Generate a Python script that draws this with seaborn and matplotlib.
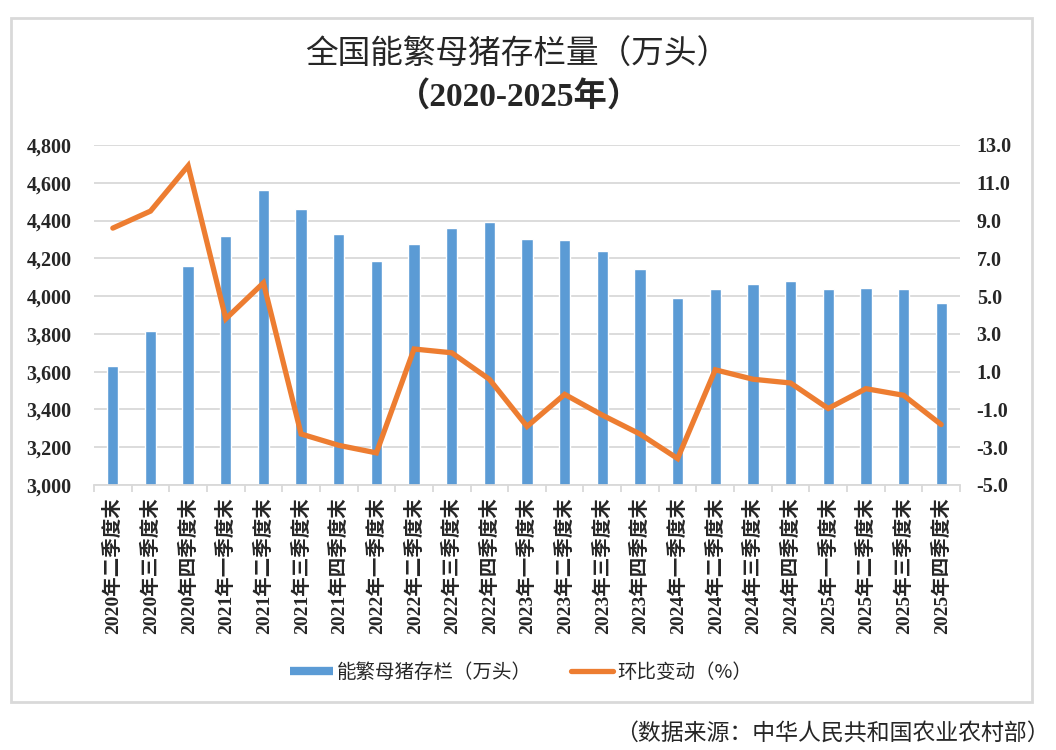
import numpy as np
import pandas as pd
import matplotlib
matplotlib.use("Agg")
import matplotlib.pyplot as plt
import matplotlib.patches as mpatches
from matplotlib.lines import Line2D
from matplotlib.ticker import FuncFormatter, FixedLocator
import seaborn as sns

# ---------------- data ----------------
quarters = ["2020年二季度末", "2020年三季度末", "2020年四季度末",
            "2021年一季度末", "2021年二季度末", "2021年三季度末", "2021年四季度末",
            "2022年一季度末", "2022年二季度末", "2022年三季度末", "2022年四季度末",
            "2023年一季度末", "2023年二季度末", "2023年三季度末", "2023年四季度末",
            "2024年一季度末", "2024年二季度末", "2024年三季度末", "2024年四季度末",
            "2025年一季度末", "2025年二季度末", "2025年三季度末", "2025年四季度末"]
stock = [3628, 3816, 4161, 4318, 4564, 4459, 4329, 4185, 4274, 4361, 4390,
         4305, 4296, 4241, 4142, 3992, 4038, 4062, 4078, 4039, 4043, 4038, 3961]
qoq = [8.6, 9.5, 11.9, 3.8, 5.7, -2.3, -2.9, -3.3, 2.2, 2.0, 0.6,
       -1.9, -0.2, -1.3, -2.3, -3.6, 1.1, 0.6, 0.4, -0.95, 0.1, -0.25, -1.8]
left_ticks = [3000, 3200, 3400, 3600, 3800, 4000, 4200, 4400, 4600, 4800]
right_ticks = [-5.0, -3.0, -1.0, 1.0, 3.0, 5.0, 7.0, 9.0, 11.0, 13.0]
title1 = "全国能繁母猪存栏量（万头）"
title2 = "（2020-2025年）"
legend_labels = ["能繁母猪存栏（万头）", "环比变动（%）"]
source = "（数据来源：中华人民共和国农业农村部）"

df = pd.DataFrame({"quarter": quarters, "stock": stock, "qoq": qoq,
                   "pos": np.arange(len(quarters))})

BLUE = "#5B9BD5"
ORANGE = "#ED7D31"
GRID = "#D9D9D9"

sns.set_theme(style="white")
plt.rcParams["font.family"] = ["Liberation Serif", "Noto Sans CJK SC", "DejaVu Sans"]
plt.rcParams["axes.unicode_minus"] = False

fig = plt.figure(figsize=(10.56, 7.5), dpi=100)
W, H = 1056, 750
ax = fig.add_axes([94 / W, 1 - 485 / H, (960 - 94) / W, (485 - 145) / H])

sns.barplot(data=df, x="quarter", y="stock", color=BLUE, width=0.3,
            saturation=1, ax=ax, zorder=2)
ax.set_ylim(left_ticks[0], left_ticks[-1])
ax.set_yticks(left_ticks)
ax.yaxis.set_major_formatter(FuncFormatter(lambda v, p: f"{int(v):,}"))
ax.set_xlim(-0.5, len(quarters) - 0.5)
ax.grid(axis="y", color=GRID, lw=1.3, zorder=0)
ax.set_axisbelow(True)
for s in ["left", "right", "top"]:
    ax.spines[s].set_visible(False)
ax.spines["bottom"].set_color(GRID)
ax.spines["bottom"].set_linewidth(1.3)
ax.set_xlabel("")
ax.set_ylabel("")

ax.tick_params(axis="y", length=0, pad=16, labelsize=14.5)
for t in ax.get_yticklabels():
    t.set_fontweight("bold")
ax.xaxis.set_minor_locator(FixedLocator(np.arange(len(quarters) + 1) - 0.5))
ax.tick_params(axis="x", which="major", length=0, pad=9)
ax.tick_params(axis="x", which="minor", length=5, color=GRID, width=1.3, bottom=True)
ax.set_xticks(range(len(quarters)))
ax.set_xticklabels(quarters, rotation=90, fontsize=14, fontweight=560,
                   va="top", ha="center")

ax2 = ax.twinx()
sns.lineplot(data=df, x="pos", y="qoq", color=ORANGE, lw=3.8, ax=ax2,
             zorder=3, solid_joinstyle="miter")
ax2.set_ylim(right_ticks[0], right_ticks[-1])
ax2.set_yticks(right_ticks)
ax2.yaxis.set_major_formatter(FuncFormatter(lambda v, p: f"{v:.1f}"))
ax2.tick_params(axis="y", length=0, pad=12, labelsize=14.5)
for t in ax2.get_yticklabels():
    t.set_fontweight("bold")
for s in ["left", "right", "top", "bottom"]:
    ax2.spines[s].set_visible(False)
ax2.set_ylabel("")
ax2.set_xlabel("")
ax2.set_xlim(-0.5, len(quarters) - 0.5)

# titles
fig.text(517 / W, 1 - 55 / H, title1, ha="center", va="center", fontsize=23.5,
         family=["Noto Sans CJK SC"], fontweight="normal")
fig.text(519 / W, 1 - 98 / H, title2, ha="center", va="center", fontsize=24,
         fontweight="bold")

# legend
handles = [Line2D([], [], color=BLUE, lw=6, solid_capstyle="butt"),
           Line2D([], [], color=ORANGE, lw=3.8, solid_capstyle="round")]
fig.legend(handles, legend_labels, loc="center", bbox_to_anchor=(521 / W, 1 - 672 / H),
           ncol=2, frameon=False, handlelength=2.2, columnspacing=2.0,
           handletextpad=0.2, prop={"family": ["Noto Sans CJK SC"], "size": 14,
                                     "weight": "medium"})

# border
fig.patches.append(mpatches.Rectangle((11 / W, 1 - 702 / H), (1032 - 11) / W,
                                      (702 - 18) / H, transform=fig.transFigure,
                                      fill=False, edgecolor=GRID, lw=2))

fig.text(1050 / W, 1 - 733 / H, source, ha="right", va="center", fontsize=16.5,
         family=["Noto Sans CJK SC"], fontweight="light")

fig.savefig("out.png", dpi=100)
